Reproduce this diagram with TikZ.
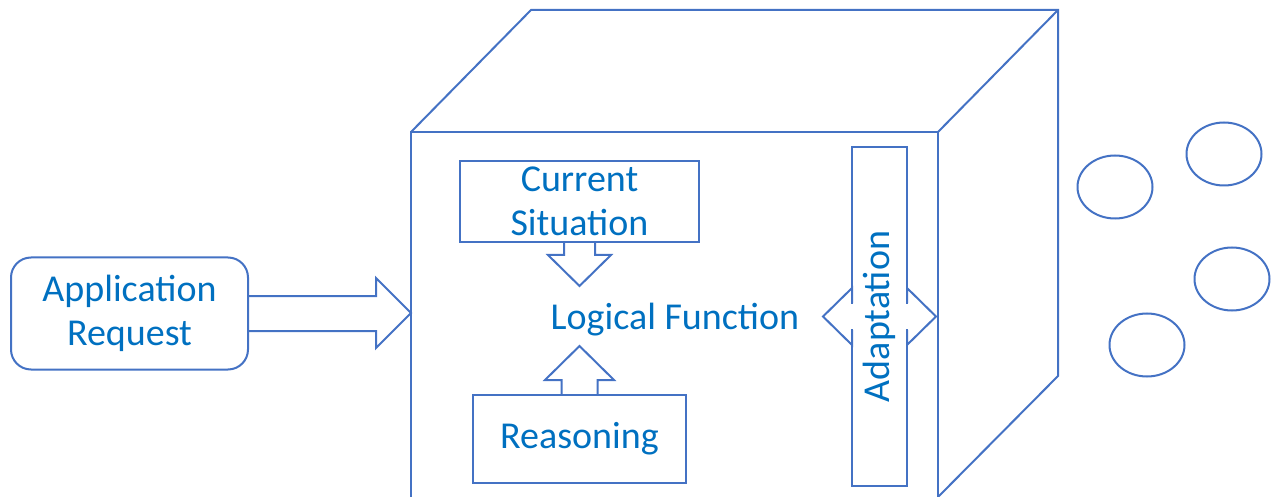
\documentclass[tikz,border=0pt]{standalone}
\usepackage{fontspec}
\setmainfont{Carlito}
\usetikzlibrary{shapes,arrows.meta,positioning}
\definecolor{lineblue}{HTML}{4472C4}
\definecolor{textblue}{HTML}{0070C0}

\begin{document}
\begin{tikzpicture}[
      x=1pt, y=-1pt, % picture drawn in pixel units
      every node/.style={text=textblue, font=\fontsize{38}{44}\selectfont},
      shapeline/.style={draw=lineblue, line width=2pt, line join=miter},
      block/.style={
          rectangle,
          draw=lineblue,
          line width=2pt,
          align=center,
          inner sep=0pt
      },
      bubble/.style={ellipse, draw=lineblue, line width=2pt, minimum width=75pt, minimum height=63pt, inner sep=0pt}
  ]
      \useasboundingbox (0,0) rectangle (1275,497);

      % Box (open cube)
      \draw [shapeline] (411,497) -- (411,132) -- (938,132) -- (938,497);
      \draw [shapeline] (411,132) -- (531,10) -- (1058,10) -- (1058,376) -- (938,497);
      \draw [shapeline] (938,132) -- (1058,10);

      % Nodes
      \node (request) [block, rounded corners=20pt, minimum width=237pt, minimum height=112pt] at (129.5,313.5) {Application\\Request};
      \node (situation) [block, minimum width=239pt, minimum height=81pt] at (579.5,201.5) {Current\\Situation};
      \node (reasoning) [block, minimum width=213pt, minimum height=88pt] at (579.5,439) {Reasoning};
      \node (logic) [anchor=base] at (675,330) {Logical Function};
      \node (adapt) [block, rotate=90, minimum width=339pt, minimum height=55pt] at (879.5,316.5) {Adaptation};
      \coordinate (inlet) at (411,313);

      % Outside objects
      \node (obj1) [bubble] at (1115,187) {};
      \node (obj2) [bubble] at (1224,154) {};
      \node (obj3) [bubble] at (1232,279) {};
      \node (obj4) [bubble] at (1147,345) {};

      % Block arrows
      \draw [shapeline] ([yshift=17.5pt]request.east) -- (376,296) -- (376,278) -- (inlet) -- (376,348) -- (376,331) -- ([yshift=-17.5pt]request.east);
      \draw [shapeline] ([xshift=-15.5pt]situation.south) -- (564,255) -- (548,255) -- (579.5,286) -- (611,255) -- (595,255) -- ([xshift=15.5pt]situation.south);
      \draw [shapeline] ([xshift=-18pt]reasoning.north) -- (561.5,380) -- (545,380) -- (579.5,346) -- (614,380) -- (597.5,380) -- ([xshift=18pt]reasoning.north);

      % Double arrow through adaptation
      \fill [white] (849,304) rectangle (855,329);
      \fill [white] (904,304) rectangle (910,329);
      \draw [shapeline] (852,303) -- (852,288) -- (823,316.5) -- (852,345) -- (852,330);
      \draw [shapeline] (907,303) -- (907,288) -- (936,316.5) -- (907,345) -- (907,330);
  \end{tikzpicture}
\end{document}
